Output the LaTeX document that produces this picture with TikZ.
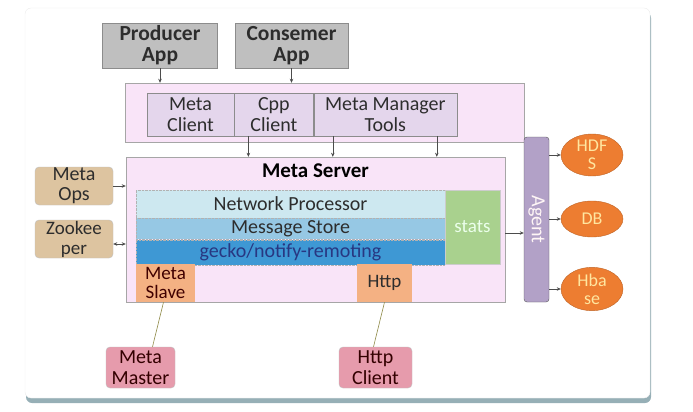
\documentclass[tikz,border=0pt]{standalone}
\usepackage{fontspec}
\setmainfont{Carlito}
\usetikzlibrary{positioning,shapes.geometric,arrows.meta}

\definecolor{appgray}{RGB}{191,191,191}
\definecolor{appline}{RGB}{140,140,140}
\definecolor{layerpink}{RGB}{249,228,248}
\definecolor{clientlav}{RGB}{228,214,236}
\definecolor{netblue}{RGB}{205,232,240}
\definecolor{storeblue}{RGB}{150,200,228}
\definecolor{geckoblue}{RGB}{62,152,212}
\definecolor{geckotext}{RGB}{40,55,130}
\definecolor{statsgreen}{RGB}{169,209,142}
\definecolor{portorange}{RGB}{244,177,131}
\definecolor{opstan}{RGB}{221,196,160}
\definecolor{agentpurple}{RGB}{178,161,199}
\definecolor{storeorange}{RGB}{237,125,49}
\definecolor{storetext}{RGB}{255,230,160}
\definecolor{masterpink}{RGB}{230,155,172}
\definecolor{inktext}{RGB}{45,45,45}
\definecolor{cardshadow}{RGB}{150,175,182}

\begin{document}
\begin{tikzpicture}[x=1pt,y=-1pt,
            every node/.style={inner sep=0pt,align=center,text=inktext,font=\fontsize{20}{21}\selectfont},
            app/.style={draw=appline,fill=appgray,minimum width=115pt,minimum height=45pt,font=\fontsize{21.5}{21}\selectfont\bfseries},
            client/.style={draw=appline,fill=clientlav,minimum height=43pt},
            layer/.style={draw=gray!60,densely dotted,minimum width=309pt},
            port/.style={fill=portorange,minimum height=38pt,font=\fontsize{19}{19}\selectfont},
            side/.style={draw=gray!50,fill=opstan,rounded corners=4pt,minimum width=78pt,minimum height=38pt,font=\fontsize{20}{20}\selectfont},
            store/.style={ellipse,draw=storeorange!80!black,fill=storeorange,minimum width=62pt,minimum height=36pt,text=storetext,font=\fontsize{18}{18}\selectfont},
            user/.style={draw=gray!50,fill=masterpink,rounded corners=4pt,minimum height=41pt,text=black!80!red},
            arr/.style={-{Stealth[length=4pt,width=3.5pt]},draw=black!70,semithick}
        ]

        \useasboundingbox (0,0) rectangle (693,412);
        % card
        \fill[cardshadow,rounded corners=6pt] (26,12) rectangle (651,403);
        \fill[white,draw=gray!15,rounded corners=6pt] (25,8) rectangle (650,398);

        \node[app] (producer) at (160,45.5) {Producer\\App};
        \node[app,minimum width=113pt] (consumer) at (291.5,45.5) {Consemer\\App};

        % client layer
        \node[draw=gray!70,fill=layerpink,minimum width=399pt,minimum height=59pt] (clients) at (324.5,112.5) {};
        \node[client,minimum width=87pt] (metaclient) at (190.5,114.5) {Meta\\Client};
        \node[client,minimum width=79pt,right=0pt of metaclient] (cppclient) {Cpp\\Client};
        \node[client,minimum width=143pt,right=0pt of cppclient] (tools) {Meta Manager\\Tools};

        % server
        \node[draw=gray!70,fill=layerpink,minimum width=379pt,minimum height=145pt] (server) at (315.5,229.5) {};
        \node[font=\fontsize{21}{21}\selectfont\bfseries,text=black] (title) at (315.5,171) {Meta Server};
        \node[layer,fill=netblue,minimum height=28pt] (network) at (290.5,204) {Network Processor};
        \node[layer,fill=storeblue,minimum height=21pt,below=0pt of network] (msgstore) {Message Store};
        \node[layer,fill=geckoblue,minimum height=25pt,below=0pt of msgstore,text=geckotext] (gecko) {gecko/notify-remoting};
        \node[draw=gray!40,fill=statsgreen,minimum width=55pt,minimum height=74pt,text=white!92!green,font=\fontsize{19}{19}\selectfont] (stats) at (472.5,227) {stats};
        \node[port,minimum width=59pt,text=black!75!red] (slave) at (165.5,283) {Meta\\Slave};
        \node[port,minimum width=55pt] (http) at (384.5,283) {Http};

        % left side
        \node[side] (ops) at (74,186) {Meta\\Ops};
        \node[side,font=\fontsize{19}{20}\selectfont] (zoo) at (74,239) {Zookee\\per};

        % agent and stores
        \node[draw=gray!70!black,fill=agentpurple,rounded corners=3pt,minimum width=25pt,minimum height=165pt] (agent) at (536.5,219.5) {};
        \node[rotate=-90,text=white!85!pink,font=\fontsize{20}{20}\selectfont] at (agent.center) {Agent};
        \node[store] (hdfs) at (592,155) {HDF\\S};
        \node[store] (db) at (592,219) {DB};
        \node[store] (hbase) at (592,289) {Hba\\se};

        % bottom
        \node[user,minimum width=69pt] (master) at (140.5,367.5) {Meta\\Master};
        \node[user,minimum width=73pt] (httpclient) at (375.5,367.5) {Http\\Client};

        \draw[arr] (producer.south) -- (producer.south |- clients.north);
        \draw[arr] (consumer.south) -- (consumer.south |- clients.north);
        \draw[arr] ([xshift=-25.5pt]cppclient.south) -- ([xshift=-25.5pt]cppclient.south |- server.north);
        \draw[arr] ([xshift=-52.5pt]tools.south) -- ([xshift=-52.5pt]tools.south |- server.north);
        \draw[arr] ([xshift=51.5pt]tools.south) -- ([xshift=51.5pt]tools.south |- server.north);
        \draw[arr] (ops.east) -- (ops.east -| server.west);
        \draw[arr,{Stealth[length=4pt,width=3.5pt]}-{Stealth[length=4pt,width=3.5pt]}] ([yshift=-5pt]zoo.east) -- ([yshift=-5pt]zoo.east -| server.west);
        \draw[arr] ([yshift=-3.5pt]server.east) -- ([yshift=-3.5pt]server.east -| agent.west);
        \draw[arr] (agent.east |- hdfs.west) -- (hdfs.west);
        \draw[arr] (agent.east |- db.west) -- (db.west);
        \draw[arr] (agent.east |- hbase.west) -- ([xshift=0pt]hbase.west);
        \draw[draw=olive!50!gray,semithick] ([xshift=12pt]master.north) -- ([xshift=-2pt]slave.south);
        \draw[draw=olive!50!gray,semithick] ([xshift=-2pt]httpclient.north) -- (http.south);

    \end{tikzpicture}
\end{document}
